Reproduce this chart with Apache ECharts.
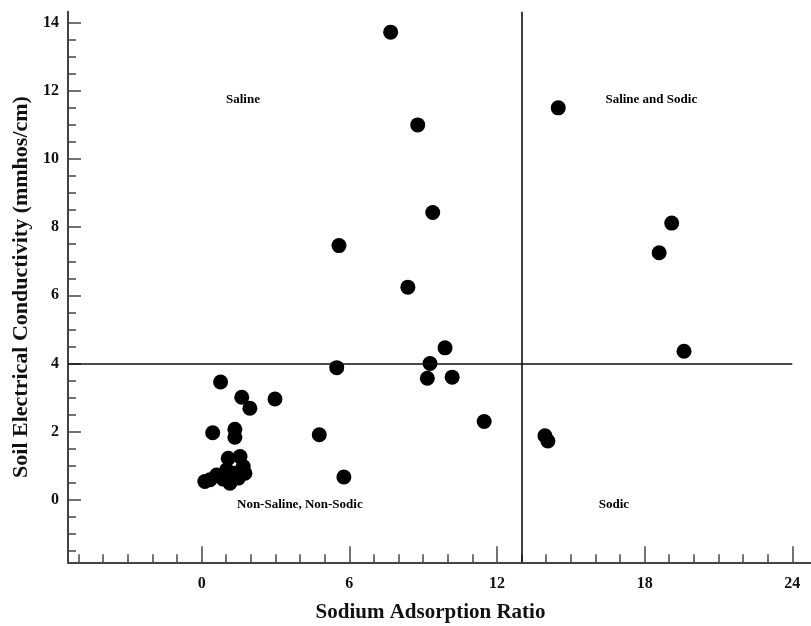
<!DOCTYPE html>
<html>
<head>
<meta charset="utf-8">
<script src="https://cdn.jsdelivr.net/npm/echarts@6/dist/echarts.min.js"></script>
<style>html,body{margin:0;padding:0;background:#fff;}#c{width:811px;height:626px;}</style>
</head>
<body>
<div id="c"></div>
<script>
// Sodium Adsorption Ratio (x) and Soil Electrical Conductivity (y)
const sar = [7.68, 8.78, 9.39, 5.58, 8.38, 9.89, 9.28, 9.17, 10.18, 5.49, 11.48, 4.78, 5.78, 2.98,
  14.49, 19.10, 18.59, 19.60, 13.95, 14.07,
  0.77, 1.63, 1.96, 0.45, 1.35, 1.35,
  1.08, 1.56, 1.69, 1.02, 0.34, 0.61, 1.15, 1.49, 0.88, 1.76, 1.35, 0.13];
const ec = [13.72, 11.0, 8.43, 7.46, 6.24, 4.46, 4.0, 3.57, 3.60, 3.88, 2.30, 1.91, 0.67, 2.96,
  11.5, 8.12, 7.25, 4.36, 1.88, 1.73,
  3.46, 3.01, 2.69, 1.97, 2.07, 1.84,
  1.22, 1.27, 0.98, 0.88, 0.59, 0.73, 0.49, 0.64, 0.61, 0.78, 0.78, 0.54];

// Thresholds dividing quadrants
const sarThreshold = 13;
const ecThreshold = 4;

// Quadrant annotations (data coordinates)
const zoneNames = ['Saline', 'Saline and Sodic', 'Non-Saline, Non-Sodic', 'Sodic'];
const zoneX = [1.68, 18.27, 3.99, 16.75];
const zoneY = [11.73, 11.73, -0.15, -0.15];

// Axis ranges and ticks
const xMin = -5.43, xMax = 24.76, xLineEnd = 24;
const yMin = -1.83, yMax = 14.32;
const xMajorTicks = [0, 6, 12, 18, 24];
const xMinorTicks = [-5,-4,-3,-2,-1,1,2,3,4,5,7,8,9,10,11,13,14,15,16,17,19,20,21,22,23];
const yMajorTicks = [0, 2, 4, 6, 8, 10, 12, 14];
const yMinorTicks = [-1.5,-1,-0.5,0.5,1,1.5,2.5,3,3.5,4.5,5,5.5,6.5,7,7.5,8.5,9,9.5,10.5,11,11.5,12.5,13,13.5];

const font = 'Liberation Serif';
const ink = '#111';

const chart = echarts.init(document.getElementById('c'), null, {renderer: 'canvas'});
const points = sar.map((x, i) => [x, ec[i]]);
const zones = zoneNames.map((n, i) => ({name: n, value: [zoneX[i], zoneY[i]]}));

chart.setOption({
  animation: false,
  backgroundColor: '#fff',
  grid: {left: 68, right: 0, top: 11.7, bottom: 63.7, containLabel: false, outerBoundsMode: 'none'},
  xAxis: [
    {
      type: 'value', min: xMin, max: xMax,
      axisLine: {show: true, onZero: false, lineStyle: {color: '#444', width: 2}},
      axisTick: {show: true, inside: true, length: 8, customValues: xMinorTicks, lineStyle: {color: '#444', width: 1.5}},
      axisLabel: {show: false},
      splitLine: {show: false}
    },
    {
      type: 'value', min: xMin, max: xMax, position: 'bottom',
      axisLine: {show: false, onZero: false},
      axisTick: {show: true, inside: true, length: 16, customValues: xMajorTicks, lineStyle: {color: '#444', width: 1.5}},
      axisLabel: {show: true, customValues: xMajorTicks, margin: 14, fontFamily: font, fontWeight: 'bold', fontSize: 16, color: ink},
      splitLine: {show: false},
      name: 'Sodium Adsorption Ratio', nameLocation: 'middle', nameGap: 40,
      nameTextStyle: {fontFamily: font, fontWeight: 'bold', fontSize: 21, color: ink, padding: [0, 18, 0, 0]}
    }
  ],
  yAxis: [
    {
      type: 'value', min: yMin, max: yMax,
      axisLine: {show: true, onZero: false, lineStyle: {color: '#444', width: 2}},
      axisTick: {show: true, inside: true, length: 8, customValues: yMinorTicks, lineStyle: {color: '#444', width: 1.5}},
      axisLabel: {show: false},
      splitLine: {show: false}
    },
    {
      type: 'value', min: yMin, max: yMax, position: 'left',
      axisLine: {show: false, onZero: false},
      axisTick: {show: true, inside: true, length: 13, customValues: yMajorTicks, lineStyle: {color: '#444', width: 1.5}},
      axisLabel: {show: true, customValues: yMajorTicks, margin: 9, fontFamily: font, fontWeight: 'bold', fontSize: 16, color: ink},
      splitLine: {show: false},
      name: 'Soil Electrical Conductivity (mmhos/cm)', nameLocation: 'middle', nameGap: 34,
      nameTextStyle: {fontFamily: font, fontWeight: 'bold', fontSize: 22, color: ink}
    }
  ],
  series: [
    {
      type: 'scatter', xAxisIndex: 0, yAxisIndex: 0,
      data: points, symbol: 'circle', symbolSize: 15,
      itemStyle: {color: '#000', opacity: 1},
      markLine: {
        silent: true, symbol: ['none', 'none'], animation: false,
        lineStyle: {color: '#111', width: 1.6, type: 'solid', opacity: 1},
        label: {show: false},
        data: [
          [{coord: [sarThreshold, yMin]}, {coord: [sarThreshold, yMax]}],
          [{coord: [xMin, ecThreshold]}, {coord: [xLineEnd, ecThreshold]}]
        ]
      }
    },
    {
      type: 'scatter', xAxisIndex: 0, yAxisIndex: 0,
      data: zones, symbolSize: 0, silent: true,
      itemStyle: {opacity: 1},
      label: {show: true, position: 'inside', formatter: '{b}', fontFamily: font, fontWeight: 'bold', fontSize: 13, color: '#000', opacity: 1}
    }
  ]
});
</script>
</body>
</html>
